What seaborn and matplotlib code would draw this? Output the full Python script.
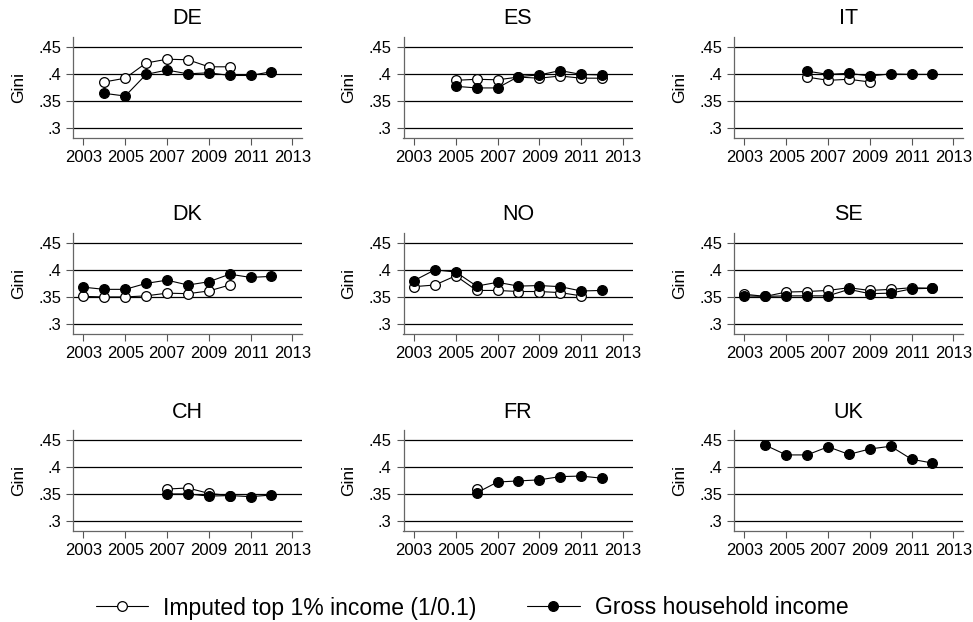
import numpy as np
import matplotlib
matplotlib.use("Agg")
import matplotlib.pyplot as plt
import seaborn as sns

sns.set_style("white")
plt.rcParams["font.family"] = ["Liberation Sans", "DejaVu Sans"]
plt.rcParams["text.color"] = "black"
plt.rcParams["axes.labelcolor"] = "black"
plt.rcParams["xtick.labelcolor"] = "black"
plt.rcParams["ytick.labelcolor"] = "black"

nan = np.nan
years = [2003, 2004, 2005, 2006, 2007, 2008, 2009, 2010, 2011, 2012]
countries = ["DE", "ES", "IT", "DK", "NO", "SE", "CH", "FR", "UK"]

# imputed top 1% income (1/0.1)
de_imp = [nan, .385, .392, .420, .427, .426, .413, .413, nan, nan]
es_imp = [nan, nan, .388, .390, .389, .394, .392, .396, .392, .392]
it_imp = [nan, nan, nan, .394, .388, .390, .385, nan, nan, nan]
dk_imp = [.351, .350, .350, .352, .357, .356, .361, .372, nan, nan]
no_imp = [.369, .372, .389, .362, .362, .360, .360, .358, .352, nan]
se_imp = [.355, .351, .359, .360, .362, .367, .362, .364, .367, .366]
ch_imp = [nan, nan, nan, nan, .359, .361, .351, .347, nan, nan]
fr_imp = [nan, nan, nan, .360, nan, nan, nan, nan, nan, nan]
uk_imp = [nan, nan, nan, nan, nan, nan, nan, nan, nan, nan]

# gross household income
de_gross = [nan, .364, .359, .399, .407, .400, .402, .397, .397, .404]
es_gross = [nan, nan, .377, .374, .374, .395, .398, .406, .399, .398]
it_gross = [nan, nan, nan, .405, .399, .401, .396, .400, .399, .399]
dk_gross = [.368, .364, .364, .375, .381, .372, .378, .392, .386, .388]
no_gross = [.380, .400, .396, .370, .377, .370, .371, .369, .361, .362]
se_gross = [.352, .351, .352, .352, .352, .364, .356, .357, .365, .366]
ch_gross = [nan, nan, nan, nan, .350, .350, .346, .347, .345, .348]
fr_gross = [nan, nan, nan, .352, .372, .374, .376, .382, .383, .379]
uk_gross = [nan, .440, .422, .422, .437, .423, .433, .438, .414, .407]

imputed = [de_imp, es_imp, it_imp, dk_imp, no_imp, se_imp, ch_imp, fr_imp, uk_imp]
gross = [de_gross, es_gross, it_gross, dk_gross, no_gross, se_gross, ch_gross, fr_gross, uk_gross]

xticks = [2003, 2005, 2007, 2009, 2011, 2013]
yticks = [.3, .35, .4, .45]
ylabels = [".3", ".35", ".4", ".45"]

W, H = 973, 622
fig = plt.figure(figsize=(W / 100, H / 100), dpi=100)

lefts = [73, 403.5, 734]
tops = [37, 233, 430]
pw, ph = 229, 101

axes = []
for i, c in enumerate(countries):
    r, k = divmod(i, 3)
    ax = fig.add_axes([lefts[k] / W, 1 - (tops[r] + ph) / H, pw / W, ph / H])
    axes.append(ax)
    for yv in yticks:
        ax.axhline(yv, color="black", lw=0.9, zorder=0)
    sns.lineplot(x=years, y=imputed[i], ax=ax, color="black", lw=0.8,
                 marker="o", markersize=7, markerfacecolor="white",
                 markeredgecolor="black", markeredgewidth=0.9,
                 label="Imputed top 1% income (1/0.1)", legend=False)
    sns.lineplot(x=years, y=gross[i], ax=ax, color="black", lw=0.8,
                 marker="o", markersize=7, markerfacecolor="black",
                 markeredgecolor="black", markeredgewidth=0.9,
                 label="Gross household income", legend=False)
    ax.set_xlim(2002.5, 2013.46)
    ax.set_ylim(.2816, .468)
    ax.set_xticks(xticks)
    ax.set_yticks(yticks)
    ax.set_yticklabels(ylabels)
    ax.set_xlabel("")
    ax.set_ylabel("Gini", fontsize=12.5, labelpad=9)
    ax.set_title(c, fontsize=15.5, pad=9)
    ax.tick_params(axis="both", labelsize=12, length=5, width=0.8,
                   color="#555555", pad=3.5, direction="out",
                   bottom=True, left=True)
    for s in ["top", "right"]:
        ax.spines[s].set_visible(False)
    for s in ["left", "bottom"]:
        ax.spines[s].set_color("#666666")
        ax.spines[s].set_linewidth(0.9)

handles = [l for l in axes[0].get_lines() if not l.get_label().startswith("_")]
fig.legend(handles=handles, labels=[h.get_label() for h in handles],
           loc="center", bbox_to_anchor=(0.485, 1 - 608 / H), ncol=2,
           frameon=False, fontsize=16.5, handlelength=2.3,
           handletextpad=0.65, columnspacing=2.2)

fig.savefig("out.png", dpi=100)
